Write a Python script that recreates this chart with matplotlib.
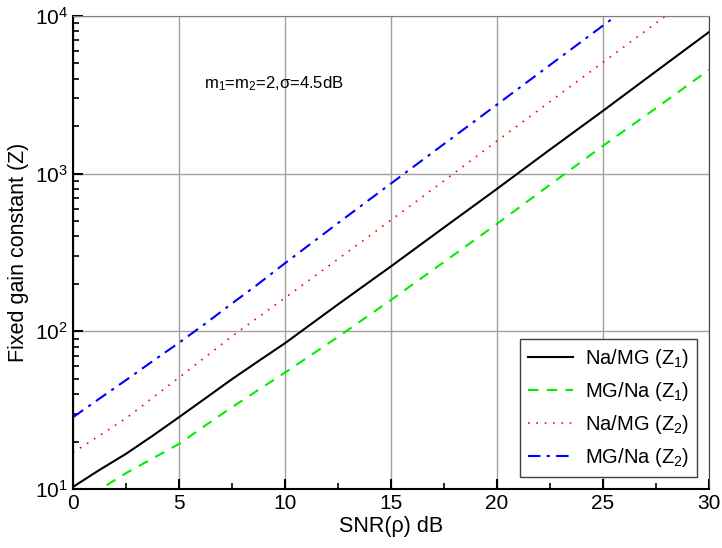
import matplotlib
matplotlib.use('Agg')
import matplotlib.pyplot as plt
from matplotlib.ticker import LogLocator, MultipleLocator

plt.rcParams['font.family'] = ['Liberation Sans', 'DejaVu Sans']
plt.rcParams['mathtext.default'] = 'regular'

## SNR grid (dB)
snr = [0, 1.25, 2.5, 3.75, 5, 6.25, 7.5, 8.75, 10, 12.5, 15, 17.5, 20, 22.5, 25, 27.5, 30]

## fixed gain constant for each scenario
na_mg_z1 = [10.3, 13.2, 16.7, 21.7, 28.5, 37.6, 49.7, 64.7, 84, 148, 258, 455, 800,
            1420, 2500, 4450, 7900]
mg_na_z1 = [8.3, 9.9, 12.6, 15.6, 19.3, 25.3, 33, 42.5, 54.7, 92, 158, 275, 480,
            850, 1500, 2600, 4550]
na_mg_z2 = [17, 21.8, 28, 37.8, 50.8, 68.7, 93, 123, 163, 287, 507, 900, 1610,
            2860, 5080, 9000, 16000]
mg_na_z2 = [28.5, 37.4, 49, 64.5, 84.5, 112, 150, 200, 270, 485, 865, 1540, 2740,
            4880, 8680, 15400, 27500]

labels = ['Na/MG (Z$_1$)', 'MG/Na (Z$_1$)', 'Na/MG (Z$_2$)', 'MG/Na (Z$_2$)']

fig = plt.figure(figsize=(7.22, 5.48), dpi=100)
ax = fig.add_axes([0.101, 0.1077, 0.881, 0.8633])

ax.plot(snr, na_mg_z1, '-', color='black', linewidth=1.5, label=labels[0])
ax.plot(snr, mg_na_z1, '--', color='#00ee00', linewidth=1.5, dashes=(5, 4), label=labels[1])
ax.plot(snr, na_mg_z2, ':', color='red', linewidth=1.2, dashes=(1, 4), label=labels[2])
ax.plot(snr, mg_na_z2, '-.', color='blue', linewidth=1.5, dashes=(6, 3, 1.5, 3), label=labels[3])

ax.set_yscale('log')
ax.set_xlim(0, 30)
ax.set_ylim(10, 1e4)
ax.xaxis.set_major_locator(MultipleLocator(5))
ax.xaxis.set_minor_locator(MultipleLocator(2.5))
ax.yaxis.set_minor_locator(LogLocator(base=10, subs=range(2, 10)))

ax.grid(True, which='major', color='#a0a0a0', linewidth=1)
ax.tick_params(which='both', direction='in', top=False, right=False, labelsize=15)
ax.tick_params(which='major', length=7, width=1.5)
ax.tick_params(which='minor', length=4, width=1.2)
for s in ['left', 'bottom']:
    ax.spines[s].set_linewidth(1.5)
ax.spines['top'].set_color('#808080')
ax.spines['right'].set_color('#404040')

ax.set_xlabel('SNR(ρ) dB', fontsize=15.5, labelpad=2)
ax.set_ylabel('Fixed gain constant (Z)', fontsize=15.5, labelpad=4)

ax.text(6.2, 3700, 'm$_1$=m$_2$=2,σ=4.5dB', fontsize=12, va='center', ha='left')

leg = ax.legend(loc='lower right', fontsize=14.5, fancybox=False, framealpha=1,
                edgecolor='#404040', handlelength=2.2, handletextpad=0.6,
                borderaxespad=0.6)
leg.get_frame().set_linewidth(1)

fig.savefig('out.png', dpi=100)
